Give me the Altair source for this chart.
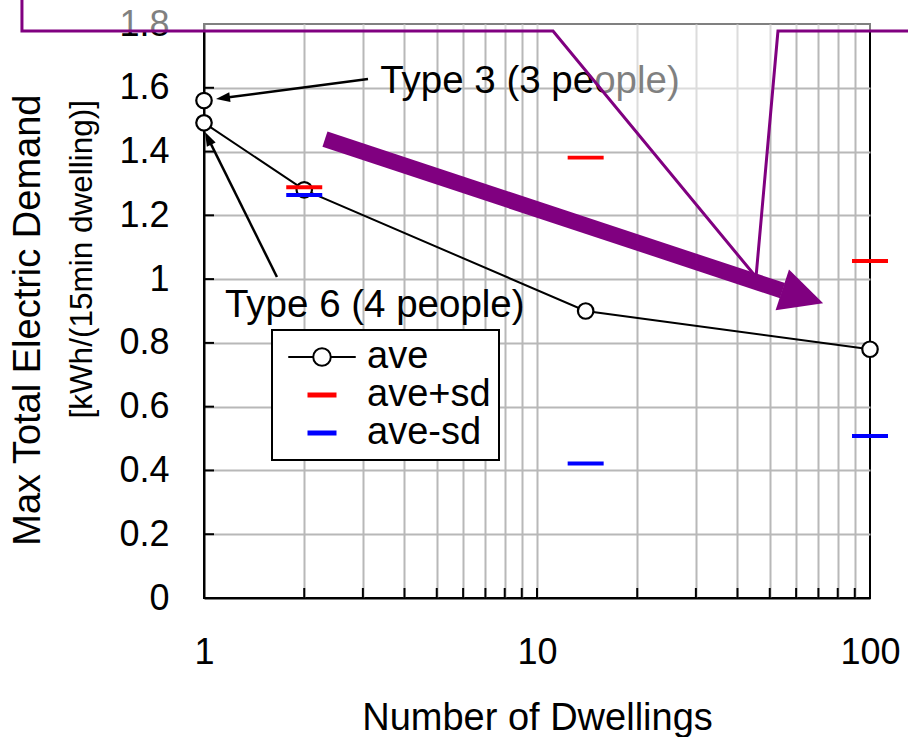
import altair as alt
import pandas as pd

FONT = "Liberation Sans"
PURPLE = "#800080"

# ---------------- data ----------------
ave_n = [1, 2, 14, 100]
ave_val = [1.49, 1.28, 0.90, 0.78]
type3_n = [1]
type3_val = [1.56]
sd_n = [2, 14, 100]
sd_plus = [1.288, 1.381, 1.057]
sd_minus = [1.264, 0.422, 0.508]
series_names = ["ave", "ave+sd", "ave-sd"]

# axis values
x_ticks = [1, 2, 3, 4, 5, 6, 7, 8, 9, 10, 20, 30, 40, 50, 60, 70, 80, 90, 100]
x_inner = [2, 3, 4, 5, 6, 7, 8, 9, 10, 20, 30, 40, 50, 60, 70, 80, 90]
y_ticks = [0, 0.2, 0.4, 0.6, 0.8, 1.0, 1.2, 1.4, 1.6, 1.8]
y_inner = [0.2, 0.4, 0.6, 0.8, 1.0, 1.2, 1.4, 1.6]

# annotations (data coordinates)
ann_text = ["Type 3 (3 people)", "Type 6 (4 people)"]
ann_x = [3.38, 1.156]
ann_y = [1.584, 0.881]
lead_x1 = [3.108, 1.656]
lead_y1 = [1.6275, 1.0066]
lead_x2 = [1.14, 1.029]
lead_y2 = [1.5676, 1.4415]
lead_angle = [172.5, 243.6]

trend_x1, trend_y1 = [2.308], [1.439]
trend_x2, trend_y2 = [54.6], [0.964]
trend_head_x, trend_head_y, trend_angle = [62.8], [0.945], [18.2]

call_x = [0.284, 0.284, 11.17, 45.47, 52.92, 132.0]
call_y = [1.891, 1.778, 1.778, 1.0066, 1.778, 1.778]
call_top = 1.891

# ---------------- scales / axes ----------------
xscale = alt.Scale(type="log", domain=[1, 100], nice=False)
yscale = alt.Scale(domain=[0, 1.8], nice=False)
GRID = "#b8b8b8"

xaxis = alt.Axis(
    values=x_ticks,
    labelExpr="(datum.value == 1 || datum.value == 10 || datum.value == 100) ? format(datum.value, 'd') : ''",
    labelFlush=False, labelOverlap=False,
    grid=True, gridWidth=2,
    gridColor={"condition": {"test": "datum.value == 1 || datum.value == 100", "value": "transparent"}, "value": GRID},
    ticks=False, domain=True, domainColor="black", domainWidth=2,
    labelFont=FONT, labelFontSize=36, labelColor="black", labelPadding=37,
    titleFont=FONT, titleFontSize=38, titleColor="black", titleFontWeight="normal",
    titleY=101, titleBaseline="top",
)
yaxis = alt.Axis(
    values=y_ticks, format="~g", labelOverlap=False,
    grid=True, gridWidth=2,
    gridColor={"condition": {"test": "datum.value == 0 || datum.value == 1.8", "value": "transparent"}, "value": GRID},
    ticks=False, domain=True, domainColor="black", domainWidth=2,
    labelFont=FONT, labelFontSize=36, labelColor="black", labelPadding=35,
    titleFont=FONT, titleFontSize=38, titleColor="black", titleFontWeight="normal",
    titleAngle=270, titleAlign="right", titleBaseline="top", titleX=-195, titleY=70,
)


def X(f="x"):
    return alt.X(f"{f}:Q", scale=xscale, axis=xaxis, title="Number of Dwellings")


def Y(f="y"):
    return alt.Y(f"{f}:Q", scale=yscale, axis=yaxis, title="Max Total Electric Demand")


# ---------------- tables ----------------
ave_df = pd.DataFrame({"x": ave_n, "y": ave_val})
pts_df = pd.DataFrame({"x": ave_n + type3_n, "y": ave_val + type3_val})
sd_df = pd.DataFrame({
    "x": sd_n + sd_n,
    "y": sd_plus + sd_minus,
    "series": [series_names[1]] * len(sd_n) + [series_names[2]] * len(sd_n),
})
ytick_df = pd.DataFrame({"y": y_inner})
xtick_df = pd.DataFrame({"x": x_inner})
ann_df = pd.DataFrame({"x": ann_x, "y": ann_y, "t": ann_text})
lead_df = pd.DataFrame({"x": lead_x1, "y": lead_y1, "x2": lead_x2, "y2": lead_y2})
head_df = pd.DataFrame({"x": lead_x2, "y": lead_y2, "a": lead_angle})
shaft_df = pd.DataFrame({"x": trend_x1, "y": trend_y1, "x2": trend_x2, "y2": trend_y2})
thead_df = pd.DataFrame({"x": trend_head_x, "y": trend_head_y, "a": trend_angle})
call_df = pd.DataFrame({"x": call_x, "y": call_y, "o": list(range(len(call_x)))})
over_df = pd.DataFrame({"x": call_x[1:], "y": call_y[1:], "y2": [call_top] * (len(call_x) - 1)})
lbl_df = pd.DataFrame({"t": ["[kWh/(15min dwelling)]"]})

AVE_SYM = "M-2.5,0L-0.65,0M0.65,0L2.5,0M-0.65,0A0.65,0.65,0,1,1,0.65,0A0.65,0.65,0,1,1,-0.65,0Z"
DASH_SYM = "M-1,-0.11L1,-0.11L1,0.11L-1,0.11Z"
HEAD_SYM = "M1,0L-1,-0.7L-1,0.7Z"
BIGHEAD_SYM = "M1,0L-1,-1L-1,1Z"

leg = alt.Legend(
    title=None, orient="none", legendX=68, legendY=306,
    symbolSize=729, symbolStrokeWidth=2, symbolOpacity=1, symbolOffset=23,
    labelFont=FONT, labelFontSize=38, labelColor="black", labelOffset=26,
    rowPadding=-1, padding=8, fillColor="white", strokeColor="black",
)

# ---------------- layers ----------------
yticks = alt.Chart(ytick_df).mark_rule(color="black", strokeWidth=2).encode(
    y=Y(), x=alt.value(0), x2=alt.value(10))
xticks = alt.Chart(xtick_df).mark_rule(color="black", strokeWidth=2).encode(
    x=X(), y=alt.value(574), y2=alt.value(564))

ave_line = alt.Chart(ave_df).mark_line(color="black", strokeWidth=2).encode(x=X(), y=Y())

leads = alt.Chart(lead_df).mark_rule(color="black", strokeWidth=2.5).encode(
    x=X(), y=Y(), x2="x2:Q", y2="y2:Q")
heads = alt.Chart(head_df).mark_point(shape=HEAD_SYM, filled=True, color="black", size=196, opacity=1).encode(
    x=X(), y=Y(), angle=alt.Angle("a:Q", scale=None))
texts = alt.Chart(ann_df).mark_text(align="left", baseline="alphabetic", font=FONT, fontSize=38.5, color="black").encode(
    x=X(), y=Y(), text="t:N")

points = alt.Chart(pts_df).mark_point(shape="circle", filled=True, fill="white", stroke="black",
                                      strokeWidth=2.2, size=240, opacity=1).encode(x=X(), y=Y())

sd = alt.Chart(sd_df).mark_point(filled=True, size=1296, strokeWidth=0, opacity=1).encode(
    x=X(), y=Y(),
    shape=alt.Shape("series:N", scale=alt.Scale(domain=series_names, range=[AVE_SYM, DASH_SYM, DASH_SYM]), legend=leg),
    fill=alt.Fill("series:N", scale=alt.Scale(domain=series_names, range=["white", "#ff0000", "#0000ff"]), legend=leg),
    stroke=alt.Stroke("series:N", scale=alt.Scale(domain=series_names, range=["black", "#ff0000", "#0000ff"]), legend=leg),
)

overlay = alt.Chart(over_df).mark_area(color="white", opacity=0.5, clip=False).encode(
    x=X(), y=Y(), y2="y2:Q")
callout = alt.Chart(call_df).mark_line(color=PURPLE, strokeWidth=3, clip=False).encode(
    x=X(), y=Y(), order=alt.Order("o:Q"))

shaft = alt.Chart(shaft_df).mark_rule(color=PURPLE, strokeWidth=16, strokeCap="butt").encode(
    x=X(), y=Y(), x2="x2:Q", y2="y2:Q")
thead = alt.Chart(thead_df).mark_point(shape=BIGHEAD_SYM, filled=True, color=PURPLE, size=1849, opacity=1).encode(
    x=X(), y=Y(), angle=alt.Angle("a:Q", scale=None))

ylab2 = alt.Chart(lbl_df).mark_text(angle=270, align="right", baseline="top", font=FONT, fontSize=31.5,
                                    color="black").encode(x=alt.value(-137), y=alt.value(76), text="t:N")

chart = alt.layer(
    yticks, xticks, ave_line, leads, heads, texts, points, sd, overlay, callout, shaft, thead, ylab2
).properties(
    width=666, height=574,
    padding={"left": 204, "top": 24, "right": 38, "bottom": 139},
    autosize=alt.AutoSizeParams(type="none"),
    background="white",
).configure_view(
    stroke="black", strokeWidth=2
).configure_legend(strokeWidth=2)

chart.save("out.html", embed_options={"renderer": "svg", "actions": False})
